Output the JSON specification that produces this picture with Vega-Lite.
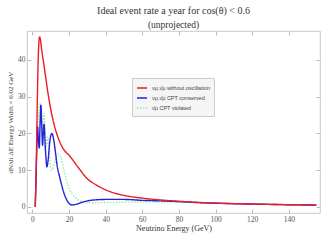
{
  "$schema": "https://vega.github.io/schema/vega-lite/v6.json",
  "width": 293,
  "height": 182,
  "autosize": "none",
  "padding": {"left": 27, "top": 31, "right": 2, "bottom": 28},
  "background": "white",
  "title": {
    "text": "Ideal event rate a year for cos(θ) < 0.6",
    "subtitle": "(unprojected)",
    "font": "Liberation Serif",
    "fontSize": 10,
    "fontWeight": "normal",
    "color": "#333333",
    "subtitleFont": "Liberation Serif",
    "subtitleFontSize": 9.5,
    "subtitleColor": "#333333",
    "subtitlePadding": 4,
    "offset": 1,
    "anchor": "middle"
  },
  "config": {
    "view": {"stroke": "#bbbbbb", "strokeWidth": 0.8},
    "axis": {
      "domain": false,
      "grid": false,
      "tickColor": "#bbbbbb",
      "tickSize": -4,
      "labelFont": "Liberation Serif",
      "labelFontSize": 7.5,
      "labelColor": "#555555",
      "labelPadding": 6,
      "titleFont": "Liberation Serif",
      "titleFontWeight": "normal",
      "titleColor": "#333333",
      "titleFontSize": 8
    }
  },
  "data": {
    "values": [
      {"E": 1.5, "N": 0, "s": "viol"},
      {"E": 2.0, "N": 9, "s": "viol"},
      {"E": 2.5, "N": 17, "s": "viol"},
      {"E": 3.0, "N": 22, "s": "viol"},
      {"E": 3.5, "N": 26, "s": "viol"},
      {"E": 4.2, "N": 28.2, "s": "viol"},
      {"E": 5.0, "N": 22, "s": "viol"},
      {"E": 5.5, "N": 20.5, "s": "viol"},
      {"E": 6.2, "N": 25.5, "s": "viol"},
      {"E": 7.0, "N": 20, "s": "viol"},
      {"E": 7.6, "N": 16.5, "s": "viol"},
      {"E": 8.4, "N": 19, "s": "viol"},
      {"E": 9.2, "N": 15, "s": "viol"},
      {"E": 10.0, "N": 10.5, "s": "viol"},
      {"E": 10.7, "N": 10, "s": "viol"},
      {"E": 11.6, "N": 11.2, "s": "viol"},
      {"E": 12.7, "N": 13, "s": "viol"},
      {"E": 14.3, "N": 14.3, "s": "viol"},
      {"E": 15.6, "N": 13.3, "s": "viol"},
      {"E": 17.0, "N": 10.5, "s": "viol"},
      {"E": 18.5, "N": 7.3, "s": "viol"},
      {"E": 20.5, "N": 4.6, "s": "viol"},
      {"E": 23.0, "N": 2.7, "s": "viol"},
      {"E": 26.0, "N": 1.6, "s": "viol"},
      {"E": 29.0, "N": 1.15, "s": "viol"},
      {"E": 35.0, "N": 1.1, "s": "viol"},
      {"E": 40.0, "N": 1.15, "s": "viol"},
      {"E": 50.0, "N": 1.25, "s": "viol"},
      {"E": 60.0, "N": 1.3, "s": "viol"},
      {"E": 70.0, "N": 1.3, "s": "viol"},
      {"E": 80.0, "N": 1.25, "s": "viol"},
      {"E": 90.0, "N": 1.1, "s": "viol"},
      {"E": 100.0, "N": 0.95, "s": "viol"},
      {"E": 110.0, "N": 0.83, "s": "viol"},
      {"E": 120.0, "N": 0.72, "s": "viol"},
      {"E": 130.0, "N": 0.63, "s": "viol"},
      {"E": 140.0, "N": 0.55, "s": "viol"},
      {"E": 150.0, "N": 0.48, "s": "viol"},
      {"E": 155.0, "N": 0.45, "s": "viol"},

      {"E": 1.5, "N": 0, "s": "cons"},
      {"E": 2.0, "N": 9, "s": "cons"},
      {"E": 2.4, "N": 17, "s": "cons"},
      {"E": 2.75, "N": 21.8, "s": "cons"},
      {"E": 3.2, "N": 18.5, "s": "cons"},
      {"E": 3.7, "N": 16, "s": "cons"},
      {"E": 4.1, "N": 22, "s": "cons"},
      {"E": 4.6, "N": 27.7, "s": "cons"},
      {"E": 5.05, "N": 22, "s": "cons"},
      {"E": 5.5, "N": 16.8, "s": "cons"},
      {"E": 5.9, "N": 20, "s": "cons"},
      {"E": 6.3, "N": 22.5, "s": "cons"},
      {"E": 7.0, "N": 16, "s": "cons"},
      {"E": 7.9, "N": 10.9, "s": "cons"},
      {"E": 8.6, "N": 13, "s": "cons"},
      {"E": 9.5, "N": 18, "s": "cons"},
      {"E": 10.6, "N": 20, "s": "cons"},
      {"E": 11.5, "N": 18.5, "s": "cons"},
      {"E": 12.5, "N": 15, "s": "cons"},
      {"E": 13.4, "N": 11.4, "s": "cons"},
      {"E": 15.0, "N": 7.8, "s": "cons"},
      {"E": 17.0, "N": 4, "s": "cons"},
      {"E": 19.0, "N": 1.6, "s": "cons"},
      {"E": 21.5, "N": 0.5, "s": "cons"},
      {"E": 24.0, "N": 0.7, "s": "cons"},
      {"E": 27.0, "N": 1.2, "s": "cons"},
      {"E": 30.0, "N": 1.6, "s": "cons"},
      {"E": 35.0, "N": 1.9, "s": "cons"},
      {"E": 40.0, "N": 2.0, "s": "cons"},
      {"E": 50.0, "N": 2.0, "s": "cons"},
      {"E": 60.0, "N": 1.75, "s": "cons"},
      {"E": 70.0, "N": 1.6, "s": "cons"},
      {"E": 80.0, "N": 1.4, "s": "cons"},
      {"E": 90.0, "N": 1.15, "s": "cons"},
      {"E": 100.0, "N": 0.97, "s": "cons"},
      {"E": 110.0, "N": 0.83, "s": "cons"},
      {"E": 120.0, "N": 0.73, "s": "cons"},
      {"E": 130.0, "N": 0.63, "s": "cons"},
      {"E": 140.0, "N": 0.55, "s": "cons"},
      {"E": 150.0, "N": 0.48, "s": "cons"},
      {"E": 155.0, "N": 0.45, "s": "cons"},

      {"E": 1.5, "N": 0, "s": "no"},
      {"E": 2.0, "N": 10, "s": "no"},
      {"E": 2.5, "N": 25, "s": "no"},
      {"E": 3.0, "N": 38, "s": "no"},
      {"E": 3.5, "N": 45, "s": "no"},
      {"E": 3.85, "N": 46.3, "s": "no"},
      {"E": 4.3, "N": 45.6, "s": "no"},
      {"E": 5.0, "N": 42.8, "s": "no"},
      {"E": 6.0, "N": 39.5, "s": "no"},
      {"E": 7.0, "N": 36, "s": "no"},
      {"E": 8.0, "N": 32.5, "s": "no"},
      {"E": 9.0, "N": 29.3, "s": "no"},
      {"E": 10.0, "N": 26.5, "s": "no"},
      {"E": 12.0, "N": 22, "s": "no"},
      {"E": 14.0, "N": 18.8, "s": "no"},
      {"E": 16.0, "N": 16.5, "s": "no"},
      {"E": 18.0, "N": 15, "s": "no"},
      {"E": 20.0, "N": 14, "s": "no"},
      {"E": 25.0, "N": 10.7, "s": "no"},
      {"E": 30.0, "N": 7.6, "s": "no"},
      {"E": 35.0, "N": 5.9, "s": "no"},
      {"E": 40.0, "N": 4.6, "s": "no"},
      {"E": 45.0, "N": 3.7, "s": "no"},
      {"E": 50.0, "N": 3.1, "s": "no"},
      {"E": 60.0, "N": 2.35, "s": "no"},
      {"E": 70.0, "N": 1.85, "s": "no"},
      {"E": 80.0, "N": 1.5, "s": "no"},
      {"E": 90.0, "N": 1.2, "s": "no"},
      {"E": 100.0, "N": 1.0, "s": "no"},
      {"E": 110.0, "N": 0.86, "s": "no"},
      {"E": 120.0, "N": 0.75, "s": "no"},
      {"E": 130.0, "N": 0.65, "s": "no"},
      {"E": 140.0, "N": 0.57, "s": "no"},
      {"E": 150.0, "N": 0.5, "s": "no"},
      {"E": 155.0, "N": 0.47, "s": "no"}
    ]
  },
  "layer": [
    {
      "mark": {"type": "line", "interpolate": "monotone", "strokeWidth": 1.4},
      "encoding": {
        "x": {
          "field": "E", "type": "quantitative",
          "scale": {"domain": [-3, 157], "nice": false, "zero": false},
          "axis": {"values": [0, 20, 40, 60, 80, 100, 120, 140], "title": "Neutrino Energy (GeV)", "titlePadding": 2}
        },
        "y": {
          "field": "N", "type": "quantitative",
          "scale": {"domain": [-1.7, 47.9], "nice": false, "zero": false},
          "axis": {"values": [0, 10, 20, 30, 40], "title": "dN/dt ΔE   Energy Width = 0.02 GeV", "titleFontSize": 7, "titlePadding": 4}
        },
        "color": {
          "field": "s", "type": "nominal", "sort": null,
          "scale": {"domain": ["no", "cons", "viol"], "range": ["#ec1c24", "#2222dd", "#9fe69f"]},
          "legend": {
            "title": null, "orient": "none", "legendX": 105, "legendY": 47,
            "fillColor": "#f5f5f5", "strokeColor": "#cccccc", "padding": 4,
            "symbolType": "stroke", "symbolSize": 100, "symbolStrokeWidth": 0.8,
            "labelFont": "Liberation Sans", "labelFontSize": 5.5, "labelColor": "#444444",
            "labelOffset": 4, "rowPadding": 0,
            "labelExpr": "datum.label == 'no' ? 'νμ,ν̄μ without oscillation' : datum.label == 'cons' ? 'νμ,ν̄μ  CPT conserved' : 'ν̄μ  CPT violated'"
          }
        },
        "strokeDash": {
          "field": "s", "type": "nominal", "sort": null,
          "scale": {"domain": ["no", "cons", "viol"], "range": [[1, 0], [1, 0], [1.5, 1.5]]},
          "legend": {
            "title": null, "orient": "none", "legendX": 105, "legendY": 47,
            "fillColor": "#f5f5f5", "strokeColor": "#cccccc", "padding": 4,
            "symbolType": "stroke", "symbolSize": 100, "symbolStrokeWidth": 0.8,
            "labelFont": "Liberation Sans", "labelFontSize": 5.5, "labelColor": "#444444",
            "labelOffset": 4, "rowPadding": 0,
            "labelExpr": "datum.label == 'no' ? 'νμ,ν̄μ without oscillation' : datum.label == 'cons' ? 'νμ,ν̄μ  CPT conserved' : 'ν̄μ  CPT violated'"
          }
        },
        "strokeWidth": {
          "field": "s", "type": "nominal", "legend": null,
          "scale": {"domain": ["no", "cons", "viol"], "range": [1.4, 1.4, 0.8]}
        }
      }
    },
    {
      "mark": {"type": "point", "opacity": 0},
      "encoding": {
        "x": {"field": "E", "type": "quantitative", "axis": {"orient": "top", "labels": false, "title": null, "values": [0, 20, 40, 60, 80, 100, 120, 140]}},
        "y": {"field": "N", "type": "quantitative", "axis": {"orient": "right", "labels": false, "title": null, "values": [0, 10, 20, 30, 40]}}
      }
    }
  ],
  "resolve": {"axis": {"x": "independent", "y": "independent"}}
}
